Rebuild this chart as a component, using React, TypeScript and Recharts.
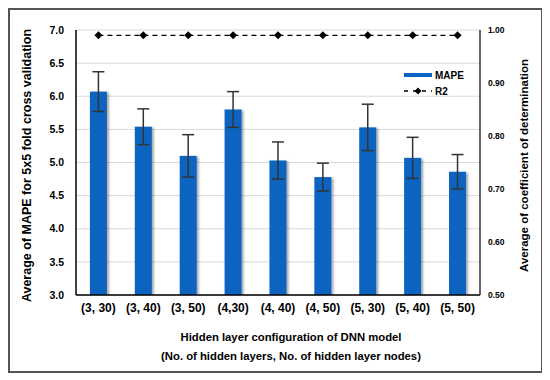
import React from "react";
import {
  ComposedChart,
  Bar,
  Line,
  XAxis,
  YAxis,
  CartesianGrid,
  ErrorBar,
  Legend,
} from "recharts";

const configs = ["(3, 30)", "(3, 40)", "(3, 50)", "(4,30)", "(4, 40)", "(4, 50)", "(5, 30)", "(5, 40)", "(5, 50)"];
const mape = [6.07, 5.54, 5.1, 5.8, 5.03, 4.78, 5.53, 5.07, 4.86];
const mapeErr = [0.3, 0.27, 0.32, 0.27, 0.28, 0.21, 0.35, 0.31, 0.26];
const r2 = [0.99, 0.99, 0.99, 0.99, 0.99, 0.99, 0.99, 0.99, 0.99];
const leftTicks = [3, 3.5, 4, 4.5, 5, 5.5, 6, 6.5, 7];
const rightTicks = [0.5, 0.6, 0.7, 0.8, 0.9, 1.0];

const data = configs.map((name, i) => ({
  name,
  mape: mape[i],
  err: mapeErr[i],
  r2: r2[i],
}));

const FONT = "'Liberation Sans', Arial, sans-serif";
const BLUE = "#0864C0";
const xTickStyle = { fontSize: 12, fontWeight: 700, fill: "#000", fontFamily: FONT };
const leftTickStyle = { fontSize: 10.5, fontWeight: 700, fill: "#000", fontFamily: FONT };
const rightTickStyle = { fontSize: 8.5, fontWeight: 700, fill: "#000", fontFamily: FONT };

const BarShape = (p: any) => (
  <rect x={p.x} y={p.y} width={p.width} height={p.height} fill={BLUE} filter="url(#barShadow)" />
);

const Diamond = (p: any) => {
  const { cx, cy } = p;
  if (cx == null || cy == null) return null;
  return (
    <polygon
      key={`d-${p.index}`}
      points={`${cx},${cy - 4} ${cx + 4},${cy} ${cx},${cy + 4} ${cx - 4},${cy}`}
      fill="#000"
    />
  );
};

const LegendBox = () => (
  <svg width={90} height={40} style={{ fontFamily: FONT, display: "block" }}>
    <rect x={4} y={13} width={28} height={4} fill={BLUE} />
    <text x={35} y={18.5} fontSize={10} fontWeight={700}>MAPE</text>
    <line x1={4} y1={31} x2={32} y2={31} stroke="#000" strokeWidth={1.3} strokeDasharray="4 5" strokeDashoffset={0} />
    <polygon points="18,27.5 21.5,31 18,34.5 14.5,31" fill="#000" />
    <text x={35} y={35} fontSize={10} fontWeight={700}>R2</text>
  </svg>
);

const LeftLabel = (p: any) => {
  const vb = p.viewBox;
  const x = vb.x + 17;
  const y = vb.y + vb.height / 2 + 3;
  return (
    <text x={x} y={y} transform={`rotate(-90 ${x} ${y})`} textAnchor="middle" dominantBaseline="central"
      fontSize={12.5} fontWeight={700} fontFamily={FONT} fill="#000">
      Average of MAPE for 5x5 fold cross validation
    </text>
  );
};

const RightLabel = (p: any) => {
  const vb = p.viewBox;
  const x = vb.x + 44;
  const y = vb.y + vb.height / 2 + 3;
  return (
    <text x={x} y={y} transform={`rotate(-90 ${x} ${y})`} textAnchor="middle" dominantBaseline="central"
      fontSize={11.5} fontWeight={700} fontFamily={FONT} fill="#000">
      Average of coefficient of determination
    </text>
  );
};

const BottomLabel = (p: any) => {
  const vb = p.viewBox;
  const x = vb.x + vb.width / 2 + 13;
  return (
    <g fontSize={11.3} fontWeight={700} fontFamily={FONT} fill="#000">
      <text x={x} y={vb.y + 46} textAnchor="middle">Hidden layer configuration of DNN model</text>
      <text x={x} y={vb.y + 65} textAnchor="middle">(No. of hidden layers, No. of hidden layer nodes)</text>
    </g>
  );
};

export default function App() {
  return (
    <div style={{ width: 531, height: 361, border: "2px solid #555", position: "relative" }}>
      <svg width={0} height={0} style={{ position: "absolute" }}>
        <defs>
          <filter id="barShadow" x="-30%" y="-10%" width="160%" height="130%">
            <feDropShadow dx={2} dy={1} stdDeviation={1.2} floodColor="#000" floodOpacity={0.35} />
          </filter>
        </defs>
      </svg>
      <ComposedChart
        width={531}
        height={361}
        data={data}
        margin={{ top: 20, right: 0, bottom: 0, left: 0 }}
        barCategoryGap="31%"
      >
        <CartesianGrid yAxisId="left" vertical={false} stroke="#d9d9d9" />
        <XAxis
          dataKey="name"
          tickLine={false}
          axisLine={{ stroke: "#000", strokeWidth: 1.5 }}
          tick={xTickStyle}
          interval={0}
          height={76}
          label={<BottomLabel />}
        />
        <XAxis
          xAxisId="top"
          dataKey="name"
          orientation="top"
          height={0}
          tick={false}
          tickLine={false}
          axisLine={{ stroke: "#333", strokeWidth: 1.5 }}
        />
        <YAxis
          yAxisId="left"
          domain={[3, 7]}
          ticks={leftTicks}
          tickFormatter={(v: number) => v.toFixed(1)}
          tickLine={false}
          axisLine={{ stroke: "#000", strokeWidth: 1.5 }}
          tick={leftTickStyle}
          tickMargin={6}
          width={66}
          allowDataOverflow
          label={<LeftLabel />}
        />
        <YAxis
          yAxisId="right"
          orientation="right"
          domain={[0.5, 1]}
          ticks={rightTicks}
          tickFormatter={(v: number) => v.toFixed(2)}
          tickLine={false}
          axisLine={{ stroke: "#333", strokeWidth: 1.5 }}
          tick={rightTickStyle}
          tickMargin={2}
          width={61}
          label={<RightLabel />}
        />
        <Legend
          verticalAlign="middle"
          align="center"
          content={() => <LegendBox />}
          wrapperStyle={{ position: "absolute", top: 50, left: 390, width: 90, height: 40 }}
        />
        <Bar yAxisId="left" dataKey="mape" name="MAPE" fill={BLUE} shape={BarShape} isAnimationActive={false}>
          <ErrorBar dataKey="err" width={6} stroke="#333" strokeWidth={1.5} direction="y" />
        </Bar>
        <Line
          yAxisId="right"
          dataKey="r2"
          name="R2"
          stroke="#000"
          strokeWidth={1.3}
          strokeDasharray="5 4"
          dot={Diamond}
          activeDot={false}
          isAnimationActive={false}
        />
      </ComposedChart>
    </div>
  );
}
